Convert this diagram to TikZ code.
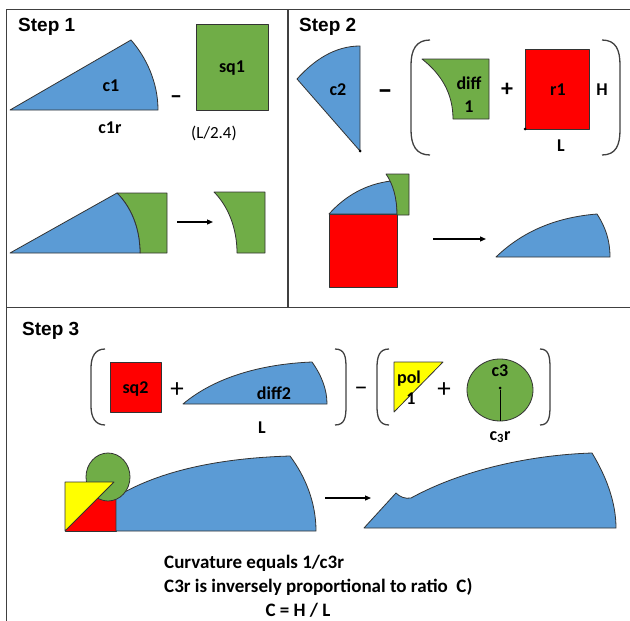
\documentclass[tikz,border=0pt]{standalone}
\usepackage{fontspec}
\setmainfont{Carlito}
\newfontfamily\arialf{Liberation Sans}
\usetikzlibrary{arrows.meta}
\definecolor{myblue}{HTML}{5B9BD5}
\definecolor{mygreen}{HTML}{70AD47}
\definecolor{myred}{HTML}{FF0000}
\definecolor{myyellow}{HTML}{FFFF00}
\definecolor{framec}{HTML}{404040}
\begin{document}
\begin{tikzpicture}[x=1pt,y=-1pt,
  shp/.style={draw=black!80,line width=0.8pt,line join=round},
  bluesh/.style={shp,fill=myblue},
  greensh/.style={shp,fill=mygreen},
  redsh/.style={shp,fill=myred},
  yellowsh/.style={shp,fill=myyellow},
  framel/.style={draw=framec,line width=1.5pt},
  lbl/.style={font=\fontsize{18}{19}\selectfont\bfseries,inner sep=0pt,align=center},
  reglbl/.style={font=\fontsize{17}{19}\selectfont,inner sep=0pt},
  oplbl/.style={font=\fontsize{27}{27}\selectfont,inner sep=0pt},
  boldop/.style={font=\fontsize{24}{24}\selectfont\bfseries,inner sep=0pt},
  bigminus/.style={font=\fontsize{30}{30}\selectfont\bfseries,inner sep=0pt},
  steplbl/.style={font=\arialf\fontsize{19}{22}\selectfont\bfseries,anchor=west,inner sep=0pt},
  txtlbl/.style={font=\fontsize{19}{22}\selectfont\bfseries,inner sep=0pt},
  paren/.style={draw=black!75,line width=1.3pt},
  arr/.style={-{Triangle[length=6pt,width=5pt]},line width=1.2pt},
  dotc/.style={circle,fill=black,inner sep=0pt,minimum size=3pt}
]
\useasboundingbox (0,0) rectangle (630,621);

% frame
\draw[framel] (6.5,621) -- (6.5,9.5) -- (630,9.5);
\draw[framel] (6.5,307.5) -- (630,307.5);
\draw[framel] (288,9.5) -- (288,307.5);

% ---------- Step 1 ----------
\node[steplbl] (s1) at (18,27) {Step 1};
\draw[bluesh] (10,110) -- (131,40) .. controls (146,57) and (158,82) .. (158,110) -- cycle;
\node[lbl] (c1) at (111,86) {c1};
\node[lbl] (c1r) at (110,128) {c1r};
\node[boldop] (m1) at (176,100) {–};
\draw[greensh] (196,24) rectangle (268,110);
\node[lbl] (sq1) at (232,68) {sq1};
\node[reglbl] (l24) at (214,133) {(L/2.4)};

\draw[greensh] (117,193) -- (167,193) -- (167,253) -- (140,253) .. controls (140,228) and (131,207) .. (117,193) -- cycle;
\draw[bluesh] (10,253) -- (117,193) .. controls (131,207) and (140,228) .. (140,253) -- cycle;
\coordinate (a1s) at (177,222);
\coordinate (a1e) at (213,222);
\draw[arr] (a1s) -- (a1e);
\draw[greensh] (214,192) -- (265,192) -- (265,253) -- (237,253) .. controls (237,228) and (228,206) .. (214,192) -- cycle;

% ---------- Step 2 ----------
\node[steplbl] (s2) at (299,27) {Step 2};
\draw[bluesh] (360,151) -- (297,79) .. controls (314,60) and (335,46) .. (360,46) -- cycle;
\node[dotc] (d2) at (360,151) {};
\node[lbl] (c2) at (338,90) {c2};
\node[bigminus] (m2) at (385,95) {–};
\draw[paren] (430,40) .. controls (416,40) and (411,50) .. (411,65) -- (411,130) .. controls (411,145) and (416,155) .. (430,155);
\draw[greensh] (422,59) -- (489,59) -- (489,119) -- (453,119) .. controls (453,93) and (441,74) .. (422,59) -- cycle;
\node[lbl] (diff1) at (469,95) {diff\\[4pt]1};
\node[boldop] (p2) at (507,90) {+};
\draw[redsh] (525,49) rectangle (589,129);
\node[dotc] (d3) at (525,129) {};
\node[lbl] (r1) at (558,90) {r1};
\node[lbl] (H) at (602,90) {H};
\node[lbl] (L1) at (561,146) {L};
\draw[paren] (602,40) .. controls (616,40) and (620,50) .. (620,65) -- (620,130) .. controls (620,145) and (616,155) .. (602,155);

\draw[redsh] (329,214) rectangle (397,287);
\draw[bluesh] (329,214) .. controls (345,196) and (366,184) .. (391,181) .. controls (395,190) and (397,200) .. (397,214) -- cycle;
\draw[greensh] (386,174) -- (409,174) -- (409,215) -- (397,215) .. controls (397,198) and (393,184) .. (386,174) -- cycle;
\coordinate (a2s) at (433,239);
\coordinate (a2e) at (486,239);
\draw[arr] (a2s) -- (a2e);
\draw[bluesh] (496,257) .. controls (525,229) and (560,217) .. (597,214) .. controls (606,228) and (610,241) .. (610,257) -- cycle;

% ---------- Step 3 ----------
\node[steplbl] (s3) at (22,331) {Step 3};
\draw[paren] (105,349) .. controls (95,349) and (91,357) .. (91,368) -- (91,406) .. controls (91,417) and (95,425) .. (105,425);
\draw[redsh] (110,362) rectangle (161,412);
\node[lbl] (sq2) at (135.5,389) {sq2};
\node[oplbl] (p3) at (177,390) {+};
\draw[bluesh] (183,404) .. controls (215,377) and (262,364) .. (312,362) .. controls (322,376) and (327,390) .. (327,404) -- cycle;
\node[lbl] (diff2) at (274,393) {diff2};
\node[lbl] (L2) at (262,428) {L};
\draw[paren] (335,349) .. controls (345,349) and (346,357) .. (346,368) -- (346,406) .. controls (346,417) and (345,425) .. (335,425);
\node[oplbl] (m3) at (361,391) {–};
\draw[paren] (389,349) .. controls (379,349) and (377,357) .. (377,368) -- (377,406) .. controls (377,417) and (379,425) .. (389,425);
\draw[yellowsh] (394,362) -- (443,362) -- (394,412) -- cycle;
\node[lbl] (pol) at (409,379) {pol};
\node[lbl] (one) at (411,399) {1};
\node[oplbl] (p4) at (444,390) {+};
\draw[greensh] (500,390) ellipse [x radius=33,y radius=31];
\node[dotc] (cc) at (500,388) {};
\coordinate (cb) at (500,421);
\draw[black,line width=0.8pt] (cc) -- (cb);
\node[lbl] (c3) at (500,371) {c3};
\node[lbl] (c3r) at (500,437) {c\textsubscript{3}r};
\draw[paren] (540,349) .. controls (549,349) and (550,357) .. (550,368) -- (550,406) .. controls (550,417) and (549,425) .. (540,425);

\draw[redsh] (65,482) rectangle (116,531);
\draw[bluesh] (116,531) -- (116,497) .. controls (160,470) and (222,458) .. (290,456) .. controls (305,476) and (316,502) .. (316,531) -- cycle;
\draw[greensh] (108,477) ellipse [x radius=22,y radius=24];
\draw[yellowsh] (65,482) -- (114,482) -- (65,531) -- cycle;
\coordinate (a3s) at (325,498);
\coordinate (a3e) at (371,498);
\draw[arr] (a3s) -- (a3e);
\draw[bluesh] (364,528) -- (396,493) .. controls (400,497) and (405,499) .. (411,498) .. controls (462,470) and (530,455) .. (592,453) .. controls (606,476) and (616,502) .. (616,528) -- cycle;

\node[txtlbl,anchor=west] (t1) at (164,563) {Curvature equals 1/c3r};
\node[txtlbl,anchor=west] (t2) at (164,587) {C3r is inversely proportional to ratio\ \ C)};
\node[txtlbl] (t3) at (298,610) {C = H / L};
\end{tikzpicture}
\end{document}
